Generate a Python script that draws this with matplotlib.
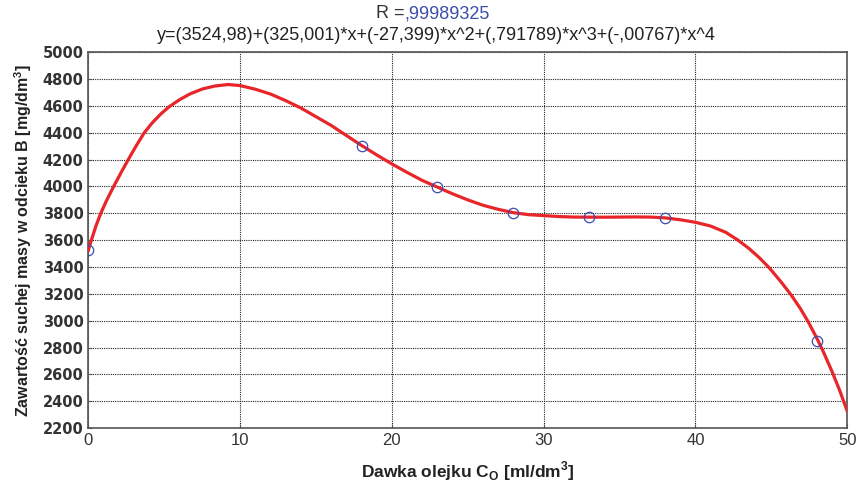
import matplotlib.pyplot as plt

# punkty pomiarowe
x_pts = [0, 18, 23, 28, 33, 38, 48]
y_pts = [3525, 4303, 3998, 3800, 3775, 3768, 2850]

# krzywa dopasowania
x_fit = [0, 0.2, 0.5, 0.82, 1.2, 1.69, 2.15, 2.63, 3.1, 3.67, 4.2, 4.8, 5.31,
         6, 6.7, 7.5, 8.3, 9.2, 10, 11, 12, 13, 14, 15, 16, 17, 18, 19, 20,
         21, 22, 23, 24, 25, 26, 27, 28, 29, 30, 31, 32, 34, 36, 37, 38, 39,
         40, 41, 42, 42.8, 43.5, 44.2, 44.85, 45.6, 46.3, 46.9, 47.4, 48, 48.4,
         49, 49.5, 50]
y_fit = [3525, 3600, 3705, 3800, 3895, 4005, 4102, 4200, 4293, 4398, 4473,
         4543, 4593, 4646, 4690, 4726, 4748, 4760, 4752, 4725, 4689, 4640,
         4585, 4520, 4455, 4380, 4306, 4235, 4168, 4105, 4045, 3995, 3945,
         3900, 3860, 3830, 3805, 3790, 3783, 3776, 3772, 3771, 3773, 3772,
         3766, 3752, 3733, 3705, 3658, 3600, 3540, 3470, 3395, 3294, 3192,
         3092, 2997, 2868, 2774, 2620, 2480, 2325]

x_ticks = [0, 10, 20, 30, 40, 50]
y_ticks = list(range(2200, 5001, 200))

r_text = ',99989325'
eq_text = 'y=(3524,98)+(325,001)*x+(-27,399)*x^2+(,791789)*x^3+(-,00767)*x^4'

fig = plt.figure(figsize=(8.6, 4.82), dpi=100)
ax = fig.add_axes([0.1027, 0.112, 0.8825, 0.7795])

ax.plot(x_fit, y_fit, color='#e8262a', lw=2.3, zorder=3, solid_joinstyle='round')
ax.plot(x_pts, y_pts, 'o', mfc='none', mec='#3b4cb0', ms=7.5, mew=0.9, zorder=4)

ax.set_xlim(0, 50)
ax.set_ylim(2200, 5000)
ax.set_xticks(x_ticks)
ax.set_yticks(y_ticks)
ax.grid(True, color='#222222', ls=(0, (1, 1)), lw=0.8)
ax.tick_params(direction='in', length=3, colors='#555555', labelcolor='#333333')
for lab in ax.get_xticklabels():
    lab.set_fontfamily('Liberation Sans')
    lab.set_fontsize(12)
for lab in ax.get_yticklabels():
    lab.set_fontfamily('DejaVu Sans')
    lab.set_fontweight('bold')
    lab.set_fontsize(10.5)
for s in ax.spines.values():
    s.set_color('#555555')
    s.set_linewidth(1.2)

ax.set_xlabel('Dawka olejku C$_\\mathregular{O}$ [ml/dm$^\\mathregular{3}$]',
              fontfamily='Liberation Sans', fontweight='bold', fontsize=12.5,
              color='#222222', labelpad=8)
ax.set_ylabel('Zawartość suchej masy w odcieku B [mg/dm$^\\mathregular{3}$]',
              fontfamily='Liberation Sans', fontweight='bold', fontsize=11.5,
              color='#222222', labelpad=6)

fig.text(0.4698, 0.971, 'R =', ha='right', va='center', fontsize=13,
         fontfamily='Liberation Sans', color='#333333')
fig.text(0.4698, 0.971, r_text, ha='left', va='center', fontsize=13,
         fontfamily='Liberation Sans', color='#3c4fa8')
fig.text(0.5076, 0.927, eq_text, ha='center', va='center', fontsize=13,
         fontfamily='Liberation Sans', color='#222222')

fig.savefig('out.png', dpi=100)
